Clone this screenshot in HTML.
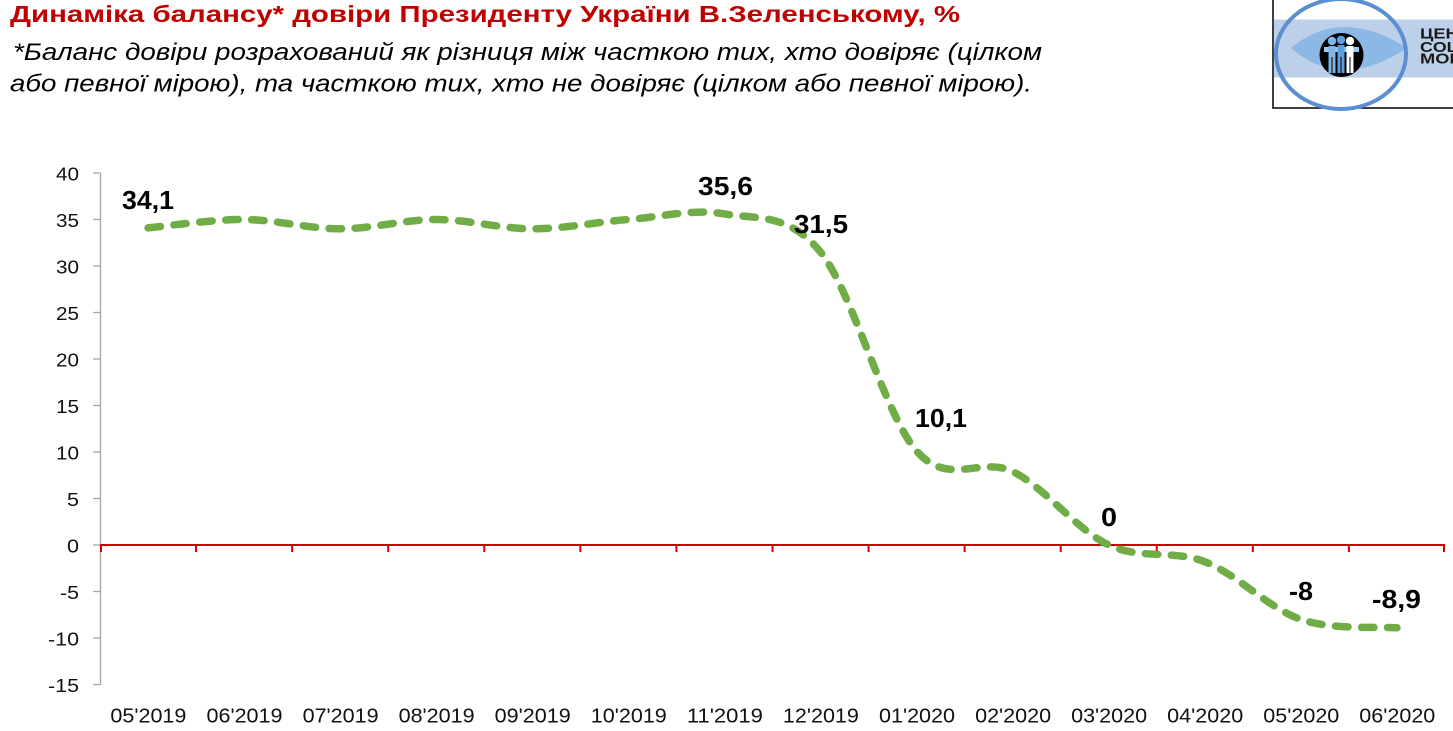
<!DOCTYPE html>
<html>
<head>
<meta charset="utf-8">
<style>
html,body{margin:0;padding:0;background:#fff;}
body{width:1453px;height:731px;overflow:hidden;}
svg{display:block;}
.t{font-family:"Liberation Sans","DejaVu Sans",sans-serif;}
</style>
</head>
<body>
<svg width="1453" height="731" viewBox="0 0 1453 731" xmlns="http://www.w3.org/2000/svg">
<rect x="0" y="0" width="1453" height="731" fill="#fff"/>

<!-- Title -->
<text class="t" x="10" y="22" font-size="23.5" font-weight="bold" fill="#c00000" textLength="950" lengthAdjust="spacingAndGlyphs">Динаміка балансу* довіри Президенту України В.Зеленському, %</text>
<text class="t" x="13" y="60" font-size="24" font-style="italic" fill="#000" textLength="1029" lengthAdjust="spacingAndGlyphs">*Баланс довіри розрахований як різниця між часткою тих, хто довіряє (цілком</text>
<text class="t" x="10" y="91.5" font-size="24" font-style="italic" fill="#000" textLength="1022" lengthAdjust="spacingAndGlyphs">або певної мірою), та часткою тих, хто не довіряє (цілком або певної мірою).</text>

<!-- Logo -->
<rect x="1273" y="-3" width="200" height="111" fill="#fff" stroke="#000" stroke-width="1.5"/>
<rect x="1274" y="19.5" width="180" height="58" fill="#bdd0ea"/>
<path d="M1291,48 Q1341,6 1407,48 Q1341,92 1291,48 Z" fill="#8cb8e6"/>
<ellipse cx="1341" cy="54" rx="65" ry="55" fill="none" stroke="#5b8fd0" stroke-width="4"/>
<circle cx="1341.5" cy="55" r="22" fill="#000"/>
<circle cx="1332" cy="41" r="4.2" fill="#7fb6e8"/>
<circle cx="1341" cy="40" r="4.2" fill="#5b9fe0"/>
<circle cx="1350" cy="41" r="4.2" fill="#fff"/>
<path d="M1324,47 L1359,47 L1359,52 L1324,52 Z" fill="#9cc8f0"/>
<rect x="1328.5" y="46" width="7" height="27" fill="#7fb6e8"/>
<rect x="1337.5" y="45" width="7" height="28" fill="#5b9fe0"/>
<rect x="1346.5" y="46" width="7" height="27" fill="#fff"/>
<rect x="1331.5" y="57" width="1" height="16" fill="#000"/>
<rect x="1340.5" y="57" width="1" height="16" fill="#000"/>
<rect x="1349.5" y="57" width="1" height="16" fill="#000"/>
<text class="t" x="1420" y="38.5" font-size="15" font-weight="bold" fill="#1a1a1a" textLength="62" lengthAdjust="spacingAndGlyphs">ЦЕНТР</text>
<text class="t" x="1420" y="52" font-size="15" font-weight="bold" fill="#1a1a1a" textLength="78" lengthAdjust="spacingAndGlyphs">COLUMN</text>
<text class="t" x="1420" y="63.5" font-size="15" font-weight="bold" fill="#1a1a1a" textLength="86" lengthAdjust="spacingAndGlyphs">MONITOR</text>

<!-- Y axis -->
<line x1="100.5" y1="173" x2="100.5" y2="685" stroke="#a6a6a6" stroke-width="1.3"/>
<g stroke="#a6a6a6" stroke-width="1.3">
<line x1="93" y1="173" x2="100.5" y2="173"/>
<line x1="93" y1="219.5" x2="100.5" y2="219.5"/>
<line x1="93" y1="266" x2="100.5" y2="266"/>
<line x1="93" y1="312.5" x2="100.5" y2="312.5"/>
<line x1="93" y1="359" x2="100.5" y2="359"/>
<line x1="93" y1="405.5" x2="100.5" y2="405.5"/>
<line x1="93" y1="452" x2="100.5" y2="452"/>
<line x1="93" y1="498.5" x2="100.5" y2="498.5"/>
<line x1="93" y1="545" x2="100.5" y2="545"/>
<line x1="93" y1="591.5" x2="100.5" y2="591.5"/>
<line x1="93" y1="638" x2="100.5" y2="638"/>
<line x1="93" y1="684.5" x2="100.5" y2="684.5"/>
</g>
<g class="t" font-size="18" fill="#111" text-anchor="end">
<text x="79" y="180.5" textLength="23" lengthAdjust="spacingAndGlyphs">40</text>
<text x="79" y="227" textLength="23" lengthAdjust="spacingAndGlyphs">35</text>
<text x="79" y="273.5" textLength="23" lengthAdjust="spacingAndGlyphs">30</text>
<text x="79" y="320" textLength="23" lengthAdjust="spacingAndGlyphs">25</text>
<text x="79" y="366.5" textLength="23" lengthAdjust="spacingAndGlyphs">20</text>
<text x="79" y="413" textLength="23" lengthAdjust="spacingAndGlyphs">15</text>
<text x="79" y="459.5" textLength="23" lengthAdjust="spacingAndGlyphs">10</text>
<text x="79" y="506" textLength="12" lengthAdjust="spacingAndGlyphs">5</text>
<text x="79" y="552.5" textLength="12" lengthAdjust="spacingAndGlyphs">0</text>
<text x="79" y="599" textLength="19" lengthAdjust="spacingAndGlyphs">-5</text>
<text x="79" y="645.5" textLength="31" lengthAdjust="spacingAndGlyphs">-10</text>
<text x="79" y="692" textLength="31" lengthAdjust="spacingAndGlyphs">-15</text>
</g>

<!-- Zero line (red) -->
<line x1="100" y1="545" x2="1445" y2="545" stroke="#d00000" stroke-width="2"/>
<g stroke="#d00000" stroke-width="2">
<line x1="101" y1="545" x2="101" y2="552"/>
<line x1="196.07" y1="545" x2="196.07" y2="552"/>
<line x1="292.14" y1="545" x2="292.14" y2="552"/>
<line x1="388.21" y1="545" x2="388.21" y2="552"/>
<line x1="484.28" y1="545" x2="484.28" y2="552"/>
<line x1="580.35" y1="545" x2="580.35" y2="552"/>
<line x1="676.42" y1="545" x2="676.42" y2="552"/>
<line x1="772.49" y1="545" x2="772.49" y2="552"/>
<line x1="868.56" y1="545" x2="868.56" y2="552"/>
<line x1="964.63" y1="545" x2="964.63" y2="552"/>
<line x1="1060.7" y1="545" x2="1060.7" y2="552"/>
<line x1="1156.77" y1="545" x2="1156.77" y2="552"/>
<line x1="1252.84" y1="545" x2="1252.84" y2="552"/>
<line x1="1348.91" y1="545" x2="1348.91" y2="552"/>
<line x1="1444" y1="545" x2="1444" y2="552"/>
</g>

<!-- X labels -->
<g class="t" font-size="20" fill="#111" text-anchor="middle">
<text x="148.4" y="722.5" textLength="76" lengthAdjust="spacingAndGlyphs">05'2019</text>
<text x="244.5" y="722.5" textLength="76" lengthAdjust="spacingAndGlyphs">06'2019</text>
<text x="340.6" y="722.5" textLength="76" lengthAdjust="spacingAndGlyphs">07'2019</text>
<text x="436.6" y="722.5" textLength="76" lengthAdjust="spacingAndGlyphs">08'2019</text>
<text x="532.7" y="722.5" textLength="76" lengthAdjust="spacingAndGlyphs">09'2019</text>
<text x="628.8" y="722.5" textLength="76" lengthAdjust="spacingAndGlyphs">10'2019</text>
<text x="724.9" y="722.5" textLength="76" lengthAdjust="spacingAndGlyphs">11'2019</text>
<text x="820.9" y="722.5" textLength="76" lengthAdjust="spacingAndGlyphs">12'2019</text>
<text x="917" y="722.5" textLength="76" lengthAdjust="spacingAndGlyphs">01'2020</text>
<text x="1013.1" y="722.5" textLength="76" lengthAdjust="spacingAndGlyphs">02'2020</text>
<text x="1109.1" y="722.5" textLength="76" lengthAdjust="spacingAndGlyphs">03'2020</text>
<text x="1205.2" y="722.5" textLength="76" lengthAdjust="spacingAndGlyphs">04'2020</text>
<text x="1301.3" y="722.5" textLength="76" lengthAdjust="spacingAndGlyphs">05'2020</text>
<text x="1397.3" y="722.5" textLength="76" lengthAdjust="spacingAndGlyphs">06'2020</text>
</g>

<!-- Data line -->
<path d="M148.04,227.87
C164.05,226.48 212.09,219.35 244.11,219.5
C276.13,219.66 308.16,228.8 340.18,228.8
C372.2,228.8 404.23,219.5 436.25,219.5
C468.27,219.5 500.3,228.8 532.32,228.8
C564.34,228.8 596.37,221.98 628.39,219.5
C660.41,217.02 692.44,208.5 724.46,213.92
C756.48,219.35 788.51,212.53 820.53,252.05
C852.55,291.58 884.58,414.49 916.6,451.07
C948.62,487.65 980.65,455.88 1012.67,471.53
C1044.69,487.19 1076.72,529.97 1108.74,545
C1140.76,560.04 1172.79,549.34 1204.81,561.74
C1236.83,574.14 1268.86,608.4 1300.88,619.4
C1332.9,630.41 1380.94,626.38 1396.95,627.77"
fill="none" stroke="#70ad47" stroke-width="7.5" stroke-linecap="round" stroke-dasharray="12.5 13.5"/>

<!-- Data labels -->
<g class="t" font-size="26" font-weight="bold" fill="#000">
<text x="122" y="209" textLength="52" lengthAdjust="spacingAndGlyphs">34,1</text>
<text x="698" y="195" textLength="55" lengthAdjust="spacingAndGlyphs">35,6</text>
<text x="794" y="233" textLength="54" lengthAdjust="spacingAndGlyphs">31,5</text>
<text x="915" y="427" textLength="52" lengthAdjust="spacingAndGlyphs">10,1</text>
<text x="1101" y="526" textLength="16" lengthAdjust="spacingAndGlyphs">0</text>
<text x="1289" y="600" textLength="24" lengthAdjust="spacingAndGlyphs">-8</text>
<text x="1372" y="608" textLength="49" lengthAdjust="spacingAndGlyphs">-8,9</text>
</g>
</svg>
</body>
</html>
